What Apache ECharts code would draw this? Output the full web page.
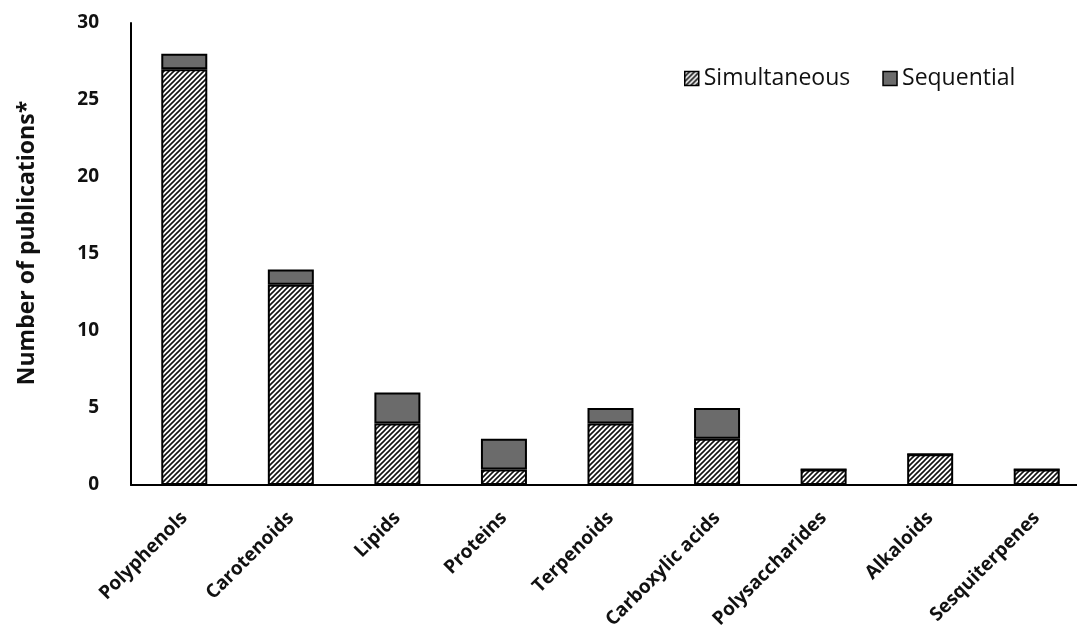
<!DOCTYPE html>
<html><head><meta charset="utf-8">
<script src="https://cdn.jsdelivr.net/npm/echarts@6/dist/echarts.min.js"></script>
<style>html,body{margin:0;padding:0;background:#fff;overflow:hidden}#c{width:1090px;height:637px}</style>
</head><body><div id="c"></div>
<script>
const categories = ['Polyphenols','Carotenoids','Lipids','Proteins','Terpenoids','Carboxylic acids','Polysaccharides','Alkaloids','Sesquiterpenes'];
const simultaneous = [27, 13, 4, 1, 4, 3, 1, 2, 1];
const sequential = [1, 1, 2, 2, 1, 2, 0, 0, 0];
const yTicks = [0, 5, 10, 15, 20, 25, 30];

function hatch() {
  const s = 5;
  const cv = document.createElement('canvas');
  cv.width = s; cv.height = s;
  const g = cv.getContext('2d');
  g.fillStyle = '#fff'; g.fillRect(0,0,s,s);
  g.strokeStyle = '#111'; g.lineWidth = 1.6;
  g.beginPath();
  g.moveTo(-1, s+1); g.lineTo(s+1, -1);
  g.moveTo(-1, 1); g.lineTo(1, -1);
  g.moveTo(s-1, s+1); g.lineTo(s+1, s-1);
  g.stroke();
  return cv;
}
const font = '"Open Sans", "Noto Sans", sans-serif';
const chart = echarts.init(document.getElementById('c'));
chart.setOption({
  animation: false,
  grid: { left: 131, right: 0, top: 23, bottom: 152, containLabel: false },
  legend: {
    top: 62, left: 679, itemWidth: 14, itemHeight: 14, itemGap: 32, icon: 'rect',
    itemStyle: { borderColor: '#000', borderWidth: 1.5 },
    textStyle: { fontFamily: font, fontSize: 23, color: '#111' },
    data: ['Simultaneous', 'Sequential']
  },
  xAxis: {
    type: 'category', data: categories,
    axisLine: { lineStyle: { color: '#000', width: 2 } },
    axisTick: { show: false },
    axisLabel: { rotate: 45, interval: 0, margin: 30, fontFamily: font, fontWeight: 'bold', fontSize: 19, color: '#111' }
  },
  yAxis: {
    type: 'value', min: yTicks[0], max: yTicks[yTicks.length-1], interval: 5,
    name: 'Number of publications*', nameLocation: 'middle', nameGap: 92, nameRotate: 90,
    nameTextStyle: { fontFamily: font, fontWeight: 'bold', fontSize: 23, color: '#111', padding: [0,0,0,22] },
    axisLine: { show: true, lineStyle: { color: '#000', width: 2 } },
    axisTick: { show: false },
    splitLine: { show: false },
    axisLabel: { margin: 32, fontFamily: font, fontWeight: 'bold', fontSize: 19, color: '#111' }
  },
  series: [
    { name: 'Simultaneous', type: 'bar', stack: 'a', barWidth: 46, data: simultaneous,
      itemStyle: { color: { image: hatch(), repeat: 'repeat' }, borderColor: '#000', borderWidth: 2 } },
    { name: 'Sequential', type: 'bar', stack: 'a', barWidth: 46, data: sequential,
      itemStyle: { color: '#6b6b6b', borderColor: '#000', borderWidth: 2 } }
  ]
});
</script></body></html>
